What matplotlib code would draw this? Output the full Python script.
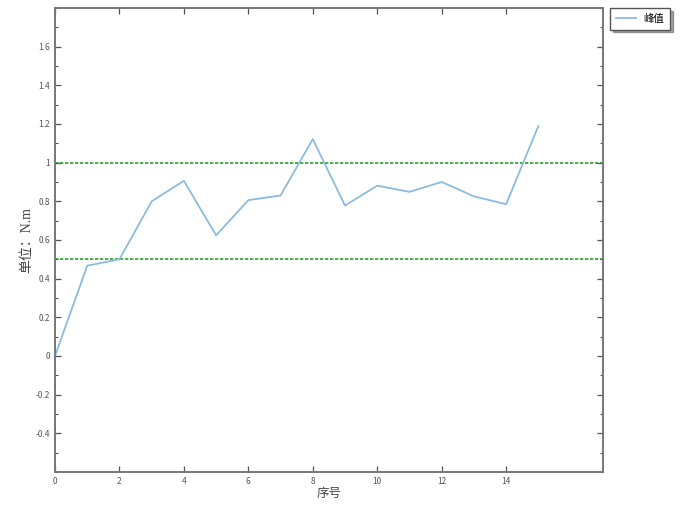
import numpy as np
import matplotlib.pyplot as plt
from matplotlib.ticker import MultipleLocator, FuncFormatter

plt.rcParams['font.family'] = ['Noto Sans CJK SC', 'DejaVu Sans']

# data
idx = np.arange(16)
peak = [0.0, 0.467, 0.50, 0.80, 0.906, 0.624, 0.806, 0.83, 1.122,
        0.778, 0.881, 0.849, 0.90, 0.826, 0.785, 1.189]
limits = [1.0, 0.5]
xticks = [0, 2, 4, 6, 8, 10, 12, 14]
yticks = [-0.4, -0.2, 0, 0.2, 0.4, 0.6, 0.8, 1, 1.2, 1.4, 1.6]

fig = plt.figure(figsize=(6.85, 5.15), dpi=100)
ax = fig.add_axes([0.0803, 0.0835, 0.7997, 0.901])

for lv in limits:
    ax.axhline(lv, color='#2ca02c', lw=1.2, ls=(0, (2, 1)), zorder=1)
ax.plot(idx, peak, color='#8bbbe0', lw=1.3, label='峰值', zorder=2)

ax.set_xlim(0, 17)
ax.set_ylim(-0.6, 1.8)
ax.set_xticks(xticks)
ax.set_yticks(yticks)
ax.yaxis.set_minor_locator(MultipleLocator(0.1))
ax.yaxis.set_major_formatter(FuncFormatter(lambda v, p: '%g' % round(v, 2)))
ax.tick_params(which='both', direction='in', top=True, right=True,
               labelsize=6, labelcolor='#555555', color='#555555')
ax.tick_params(which='major', length=4, width=0.9)
ax.tick_params(which='minor', length=2, width=0.8)
for s in ax.spines.values():
    s.set_color('#777777')
    s.set_linewidth(1.4)

ax.set_xlabel('序号', fontsize=9, color='#444444', labelpad=1)
ax.set_ylabel('单位：N.m', fontsize=10, color='#444444', labelpad=2,
              family=['Liberation Serif', 'Noto Sans CJK SC'])

leg = ax.legend(loc='upper left', bbox_to_anchor=(1.014, 1.0), fontsize=7.5,
                fancybox=False, shadow=True, edgecolor='#555555',
                handlelength=1.9, handletextpad=0.7, borderaxespad=0,
                borderpad=0.55)
leg.get_frame().set_linewidth(1.0)

fig.savefig('out.png', dpi=100)
